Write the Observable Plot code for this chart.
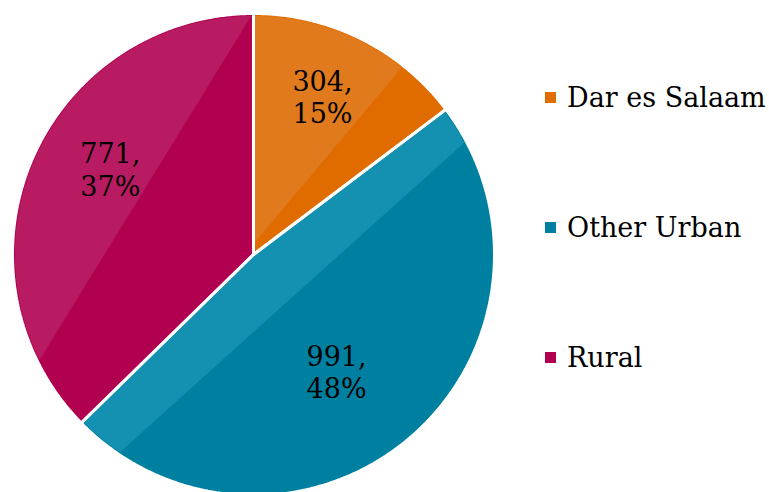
<!DOCTYPE html>
<html><head><meta charset="utf-8">
<script src="https://cdn.jsdelivr.net/npm/d3@7"></script>
<script src="https://cdn.jsdelivr.net/npm/@observablehq/plot@0.6"></script>
<style>
html,body{margin:0;padding:0;background:#fff;}
#wrap{position:relative;width:769px;height:492px;overflow:hidden;}
#legend{position:absolute;left:545px;top:0;font-family:"DejaVu Serif",serif;font-size:27px;color:#000;}
.item{position:absolute;left:0;display:flex;align-items:center;white-space:nowrap;height:40px;}
.sw{width:11px;height:11px;margin-right:11px;flex:none;}
</style></head><body>
<div id="wrap"><div id="chart"></div><div id="legend"></div></div>
<script>
// ---- data ----
const categories = ["Dar es Salaam", "Other Urban", "Rural"];
const counts = [304, 991, 771];
const percents = [15, 48, 37];

// ---- style ----
const baseColors = ["#E06C00", "#0080A0", "#B0004F"];
const sheenColors = ["#E07A1C", "#1490B0", "#B81B62"];
// chord (angles in degrees, clockwise from top) that bounds the lighter sheen, and a reference point on the lighter side
const sheenChords = [
  {a1: 38.4, a2: 221.6, refAngle: 10, refR: 0.9},
  {a1: 61.9, a2: 214.2, refAngle: 0, refR: 0},
  {a1: 243.4, a2: 359.8, refAngle: 300, refR: 0.98}
];
const labelNudge = [{da: -2.9, r: 0.715}, {da: 5.3, r: 0.595}, {da: 8, r: 0.692}];
const W = 769, H = 492, R = 241, CX = 253, CY = 254;
const FONT = "DejaVu Serif";

const total = d3.sum(counts);
const pt = (deg, r) => ({x: r * Math.sin(deg * Math.PI / 180), y: r * Math.cos(deg * Math.PI / 180)});

function slicePoly(a0, a1, r) {
  const pts = [{x: 0, y: 0}];
  const n = Math.max(2, Math.ceil((a1 - a0) / 0.4));
  for (let k = 0; k <= n; k++) pts.push(pt(a0 + (a1 - a0) * k / n, r));
  return pts;
}
function clipHalf(poly, A, B, ref) {
  const cr = p => (B.x - A.x) * (p.y - A.y) - (B.y - A.y) * (p.x - A.x);
  const s = Math.sign(cr(ref));
  const out = [];
  for (let i = 0; i < poly.length; i++) {
    const P = poly[i], Q = poly[(i + 1) % poly.length];
    const dp = cr(P) * s, dq = cr(Q) * s;
    if (dp >= 0) out.push(P);
    if ((dp >= 0) !== (dq >= 0)) {
      const t = dp / (dp - dq);
      out.push({x: P.x + t * (Q.x - P.x), y: P.y + t * (Q.y - P.y)});
    }
  }
  return out;
}

const slicePts = [], sheenPts = [], outlinePts = [], labels = [];
let cum = 0;
categories.forEach((cat, i) => {
  const a0 = cum / total * 360;
  cum += counts[i];
  const a1 = cum / total * 360;
  const poly = slicePoly(a0, a1, 1);
  poly.forEach(p => slicePts.push({...p, cat, fill: baseColors[i]}));
  [...poly, {x: 0, y: 0}].forEach(p => outlinePts.push({...p, cat}));
  const sc = sheenChords[i];
  const sh = clipHalf(slicePoly(a0, a1, 0.99), pt(sc.a1, 1), pt(sc.a2, 1), pt(sc.refAngle, sc.refR));
  sh.forEach(p => sheenPts.push({...p, cat, fill: sheenColors[i]}));
  const lp = pt((a0 + a1) / 2 + labelNudge[i].da, labelNudge[i].r);
  labels.push({...lp, text: `${counts[i]},\n${percents[i]}%`});
});

const chart = Plot.plot({
  width: W, height: H,
  margin: 0,
  x: {domain: [-CX / R, (W - CX) / R], axis: null},
  y: {domain: [-(H - CY) / R, CY / R], axis: null},
  color: {type: "identity"},
  marks: [
    Plot.line(slicePts, {x: "x", y: "y", z: "cat", fill: "fill", stroke: null, curve: "linear"}),
    Plot.line(sheenPts, {x: "x", y: "y", z: "cat", fill: "fill", stroke: null, curve: "linear"}),
    Plot.line(outlinePts, {x: "x", y: "y", z: "cat", stroke: "white", strokeWidth: 3, fill: "none", strokeLinejoin: "miter", curve: "linear"}),
    Plot.text(labels, {x: "x", y: "y", text: "text", fontSize: 27, fontFamily: FONT, fill: "#000", lineHeight: 1.2})
  ]
});
document.getElementById("chart").appendChild(chart);

const legend = document.getElementById("legend");
const centers = [97.5, 227.5, 357.5];
categories.forEach((cat, i) => {
  const it = document.createElement("div");
  it.className = "item";
  it.style.top = (centers[i] - 20) + "px";
  const sw = document.createElement("span");
  sw.className = "sw"; sw.style.background = baseColors[i];
  const tx = document.createElement("span");
  tx.textContent = cat;
  it.appendChild(sw); it.appendChild(tx);
  legend.appendChild(it);
});
</script>
</body></html>
